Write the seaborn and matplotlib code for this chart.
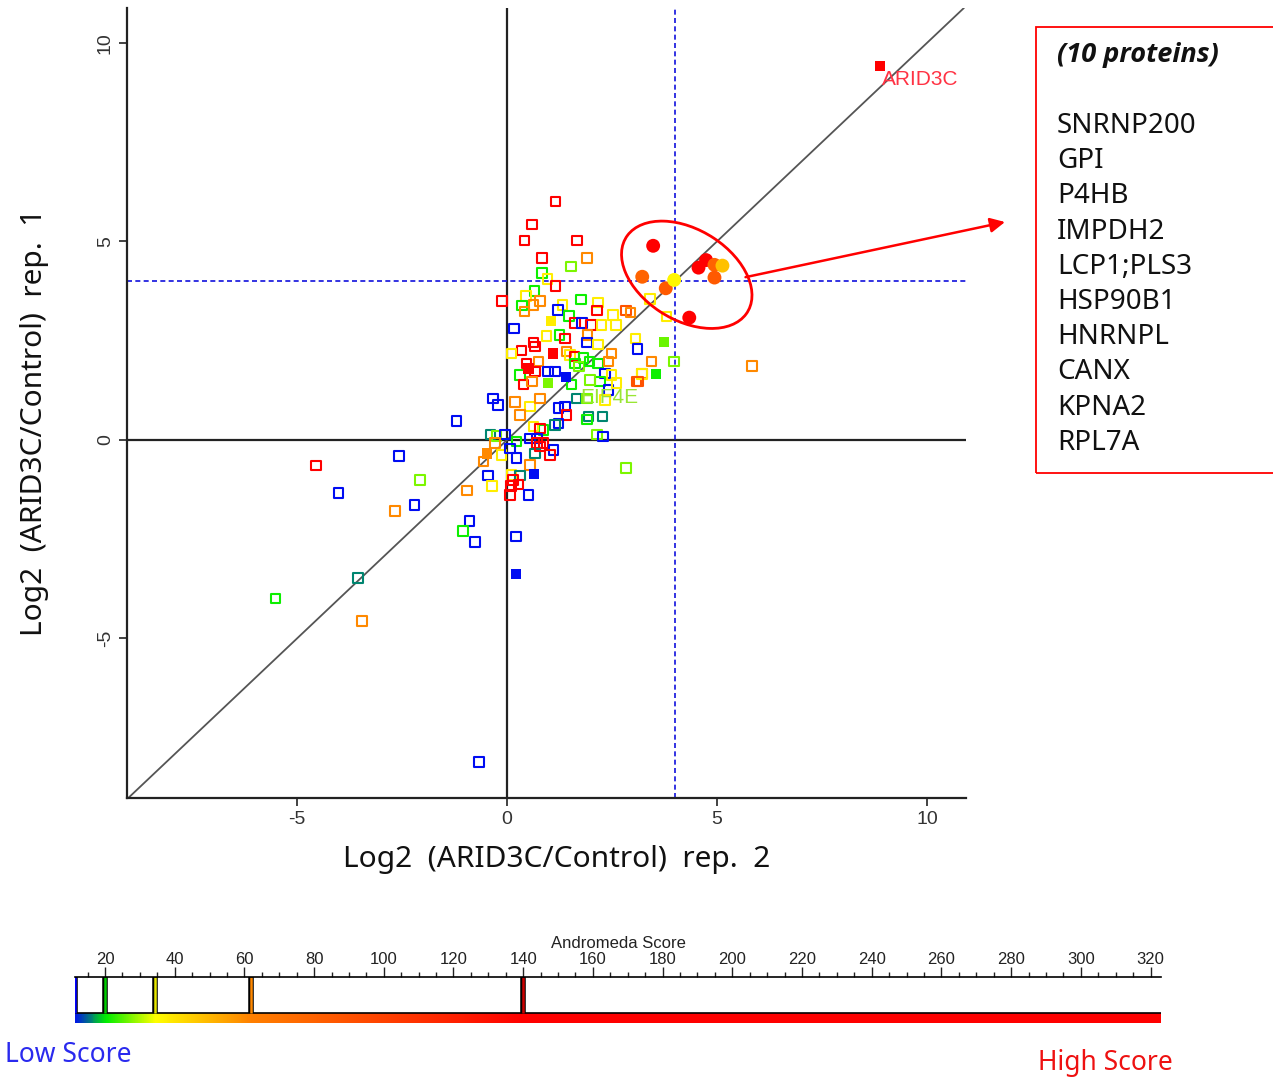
import numpy as np
import pandas as pd
import matplotlib.pyplot as plt
import seaborn as sns
from matplotlib.colors import LinearSegmentedColormap, Normalize
from matplotlib.patches import Ellipse, Rectangle
from matplotlib.ticker import MultipleLocator

# andromeda score per colour class
B, T, G, L, Y, O, RO, R = 11, 16, 21, 27, 38, 60, 90, 150

# open squares: rep2 (x), rep1 (y), score
open_x = [-4.55, -4.02, -2.57, -2.07, -2.21, -2.67, -0.95, -0.90, -1.05, -0.76,
          -3.55, -5.52, -3.45, -0.67, 0.21, 5.83, 2.83, -1.21, 1.16, 0.59,
          0.41, 1.67, 0.83, 1.90, 1.52, 0.83, 0.97, 1.16, -0.12, 0.65,
          0.45, 0.79, 0.63, 0.36, 0.41, 1.76, 1.32, 1.21, 2.17, 2.14,
          2.52, 2.83, 2.94, 1.48, 0.17, 1.25, 1.38, 1.62, 1.79, 2.00,
          0.94, 1.92, 1.90, 2.25, 2.60, 2.17, 3.06, 3.11, 0.63, 0.35,
          0.67, 0.11, 1.42, 1.50, 1.60, 2.49, 1.82, 0.47, 0.75, 0.31,
          0.67, 0.98, 1.14, 1.62, 1.71, 1.96, 2.17, 2.41, 2.33, 2.49,
          2.21, 1.98, 0.39, 0.59, 1.54, 2.41, 2.61, 3.09, 3.21, -0.33,
          -0.21, 0.19, 0.55, 0.79, 1.22, 1.38, 1.66, 1.90, 2.33, 1.94,
          0.31, 1.42, 1.90, 2.28, 1.22, 1.14, 0.87, 0.63, 0.79, -0.40,
          -0.25, -0.05, 0.23, 0.55, 0.71, 0.71, 0.87, 2.14, 2.29, -0.29,
          -0.56, -0.13, 0.07, 0.23, 0.67, 1.10, 1.02, 0.79, 0.55, -0.45,
          -0.36, 0.11, 0.31, 0.14, 0.27, 0.09, 0.07, 0.51, 3.80, 3.44,
          3.98, 3.21, 3.13, 3.40]
open_y = [-0.65, -1.34, -0.40, -1.01, -1.64, -1.79, -1.28, -2.04, -2.29, -2.57,
          -3.48, -4.00, -4.56, -8.11, -2.44, 1.86, -0.71, 0.48, 6.00, 5.42,
          5.02, 5.02, 4.58, 4.58, 4.37, 4.20, 4.05, 3.88, 3.50, 3.75,
          3.63, 3.50, 3.40, 3.38, 3.23, 3.54, 3.40, 3.27, 3.46, 3.26,
          3.15, 3.26, 3.21, 3.12, 2.81, 2.64, 2.56, 2.94, 2.94, 2.90,
          2.62, 2.64, 2.46, 2.90, 2.90, 2.41, 2.56, 2.29, 2.46, 2.25,
          2.35, 2.18, 2.22, 2.14, 2.10, 2.18, 2.06, 1.93, 1.97, 1.64,
          1.72, 1.72, 1.72, 1.93, 1.85, 1.97, 1.93, 1.97, 1.68, 1.64,
          1.47, 1.51, 1.39, 1.47, 1.39, 1.26, 1.43, 1.47, 1.68, 1.05,
          0.88, 0.96, 0.84, 1.05, 0.80, 0.84, 1.05, 1.05, 1.01, 0.59,
          0.63, 0.63, 0.52, 0.59, 0.42, 0.38, 0.25, 0.34, 0.29, 0.13,
          0.10, 0.13, -0.04, 0.04, 0.04, -0.08, -0.08, 0.13, 0.08, -0.08,
          -0.55, -0.38, -0.21, -0.46, -0.34, -0.25, -0.38, -0.17, -0.63, -0.90,
          -1.16, -0.88, -0.90, -1.01, -1.13, -1.16, -1.39, -1.39, 3.11, 1.97,
          1.97, 1.66, 1.47, 3.55]
open_score = [R, B, B, L, B, O, O, B, G, B,
              T, G, O, B, B, O, L, B, R, R,
              R, R, R, O, L, G, Y, R, R, G,
              Y, O, O, G, O, G, Y, B, Y, R,
              Y, RO, O, G, B, G, R, R, B, R,
              Y, O, B, Y, Y, Y, Y, B, R, R,
              R, Y, O, Y, R, O, G, R, O, G,
              R, B, B, G, L, G, G, O, B, Y,
              G, L, R, O, G, B, Y, RO, O, B,
              B, O, Y, O, B, B, T, L, Y, T,
              O, R, G, T, B, T, G, Y, R, T,
              L, B, G, B, B, R, R, L, B, O,
              O, Y, B, B, T, B, R, R, O, B,
              Y, Y, T, R, R, R, R, B, Y, O,
              L, Y, RO, Y]

# filled squares
filled_x = [8.88, 0.21, 0.64, 1.05, 1.10, 0.51, 1.40, 0.98, 3.74, 3.55, -0.48]
filled_y = [9.42, -3.38, -0.86, 3.00, 2.18, 1.80, 1.59, 1.43, 2.46, 1.66, -0.34]
filled_score = [R, B, B, Y, R, R, B, L, 26, 21, O]

# the 10 highlighted proteins (filled circles)
hit_x = [3.48, 3.22, 3.78, 3.98, 4.56, 4.74, 4.94, 5.13, 4.94, 4.34]
hit_y = [4.89, 4.11, 3.82, 4.03, 4.34, 4.53, 4.41, 4.39, 4.09, 3.08]
hit_score = [R, 80, 85, 36, R, 140, 80, 48, 85, R]
hit_names = ["SNRNP200", "GPI", "P4HB", "IMPDH2", "LCP1;PLS3",
             "HSP90B1", "HNRNPL", "CANX", "KPNA2", "RPL7A"]

score_ticks = list(range(20, 321, 20))
thresholds = [11.4, 20, 34.3, 61.9, 140]
threshold_colors = ["#0000ff", "#00cc00", "#e6e600", "#ff8800", "#cc0000"]

sns.set_theme(style="white")
plt.rcParams["font.family"] = ["Liberation Sans", "DejaVu Sans"]
plt.rcParams["axes.unicode_minus"] = False

cmap = LinearSegmentedColormap.from_list(
    "andromeda",
    [(0.0, "#0000ff"), (10 / 130, "#00ee00"), (24 / 130, "#ffff00"),
     (52 / 130, "#ff8000"), (1.0, "#ff0000")])
norm = Normalize(10, 140)

df_open = pd.DataFrame({"rep2": open_x, "rep1": open_y, "score": open_score})
df_fill = pd.DataFrame({"rep2": filled_x, "rep1": filled_y, "score": filled_score})
df_hit = pd.DataFrame({"rep2": hit_x, "rep1": hit_y, "score": hit_score})

fig = plt.figure(figsize=(12.73, 10.78), dpi=100)
ax = fig.add_axes([127 / 1273, 1 - 798 / 1078, 839 / 1273, 790 / 1078])

# reference lines
ax.axhline(0, color="#222222", lw=1.6, zorder=2)
ax.axvline(0, color="#222222", lw=1.6, zorder=2)
ax.axhline(4, color="#1010dd", lw=1.2, ls=(0, (3, 2)), zorder=2)
ax.axvline(4, color="#1010dd", lw=1.2, ls=(0, (3, 2)), zorder=2)
ax.axline((0, 0), (1, 1), color="#555555", lw=1.3, zorder=2)

sns.scatterplot(data=df_open, x="rep2", y="rep1", hue="score", palette=cmap,
                hue_norm=norm, marker="s", s=46, legend=False, ax=ax, zorder=3)
pts = ax.collections[-1]
fc = pts.get_facecolors()
pts.set_facecolors("none")
pts.set_edgecolors(fc)
pts.set_linewidth(1.5)

sns.scatterplot(data=df_fill, x="rep2", y="rep1", hue="score", palette=cmap,
                hue_norm=norm, marker="s", s=55, linewidth=0, legend=False,
                ax=ax, zorder=4)
sns.scatterplot(data=df_hit, x="rep2", y="rep1", hue="score", palette=cmap,
                hue_norm=norm, marker="o", s=100, linewidth=0, legend=False,
                ax=ax, zorder=5)

ax.text(8.93, 9.09, "ARID3C", color="#ff3344", fontsize=15, ha="left", va="center")
ax.text(3.12, 1.08, "EIF4E", color="#99e633", fontsize=15, ha="right", va="center",
        zorder=6)

ax.add_patch(Ellipse((4.28, 4.16), width=3.45, height=2.25, angle=-35,
                     fill=False, ec="red", lw=2, zorder=6))
ax.annotate("", xy=(1005 / 1273, 1 - 222 / 1078), xycoords="figure fraction",
            xytext=(5.68, 4.1), textcoords="data",
            arrowprops=dict(arrowstyle="-|>", color="red", lw=1.8,
                            mutation_scale=22, shrinkA=0, shrinkB=0))

ax.set_xlim(-9.05, 10.93)
ax.set_ylim(-9.02, 10.88)
ax.set_xticks([-5, 0, 5, 10])
ax.set_yticks([-5, 0, 5, 10])
ax.tick_params(labelsize=14, labelcolor="#333333", length=6, width=1.2,
               direction="out", color="#222222", left=True, bottom=True)
for lab in ax.get_yticklabels():
    lab.set_rotation(90)
    lab.set_va("center")
ax.spines["top"].set_visible(False)
ax.spines["right"].set_visible(False)
for s in ["left", "bottom"]:
    ax.spines[s].set_color("#222222")
    ax.spines[s].set_linewidth(1.6)
ax.set_xlabel("")
ax.set_ylabel("")

fig.text(557 / 1273, 1 - 860 / 1078, "Log2  (ARID3C/Control)  rep.  2",
         family="Noto Sans", fontsize=21.5, ha="center", va="center", color="#111111")
fig.text(35 / 1273, 1 - 422 / 1078, "Log2  (ARID3C/Control)  rep.  1",
         family="Noto Sans", fontsize=21.5, ha="center", va="center", rotation=90,
         color="#111111")

# protein list box
fig.add_artist(Rectangle((1036 / 1273, 1 - 473 / 1078), 0.3, 446 / 1078,
                         transform=fig.transFigure, fill=False, ec="red", lw=1.3))
fig.text(1057 / 1273, 1 - 55 / 1078, "(10 proteins)",
         family=["Open Sans", "DejaVu Sans"], fontsize=19.5, fontweight="bold",
         fontstyle="italic", va="center", color="#111111")
for i, name in enumerate(hit_names):
    fig.text(1057 / 1273, 1 - (126 + i * 35.2) / 1078, name, family="Noto Sans",
             fontsize=20, va="center", color="#111111")

# andromeda score colour bar
cax = fig.add_axes([75 / 1273, 1 - 1023 / 1078, 1086 / 1273, 46 / 1078])
grad = np.linspace(11.4, 323, 600)[None, :]
cax.imshow(grad, extent=[11.4, 323, 0, 0.217], aspect="auto", cmap=cmap, norm=norm)
cax.axhline(0.217, color="black", lw=1.2)
for v, c in zip(thresholds, threshold_colors):
    cax.plot([v, v], [0.217, 1], color="black", lw=4, solid_capstyle="butt")
    cax.plot([v, v], [0.217, 1], color=c, lw=1.8, solid_capstyle="butt")
cax.set_xlim(11.4, 323)
cax.set_ylim(0, 1)
cax.xaxis.tick_top()
cax.set_xticks(score_ticks)
cax.xaxis.set_minor_locator(MultipleLocator(5))
cax.tick_params(axis="x", which="major", length=7, width=1, direction="out",
                labelsize=12, pad=0, color="#222222", labelcolor="#222222", top=True)
cax.tick_params(axis="x", which="minor", length=3.5, width=1, direction="out",
                color="#222222", top=True)
cax.set_yticks([])
for s in ["left", "right", "bottom"]:
    cax.spines[s].set_visible(False)
cax.spines["top"].set_color("black")
cax.spines["top"].set_linewidth(1.2)

fig.text(618 / 1273, 1 - 943 / 1078, "Andromeda Score", fontsize=12,
         ha="center", va="center", color="#222222")
fig.text(5 / 1273, 1 - 1055 / 1078, "Low Score", family="Noto Sans", fontsize=19,
         color="#2a2aee", ha="left", va="center")
fig.text(1173 / 1273, 1 - 1063 / 1078, "High Score", family="Noto Sans", fontsize=19,
         color="#ee1111", ha="right", va="center")

fig.savefig("out.png", dpi=100)
